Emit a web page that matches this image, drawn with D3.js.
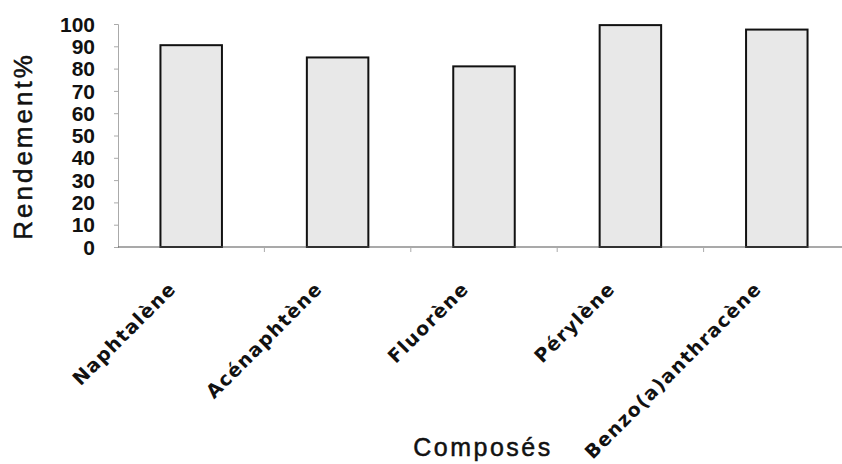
<!DOCTYPE html>
<html>
<head>
<meta charset="utf-8">
<script src="https://cdn.jsdelivr.net/npm/d3@7"></script>
<style>
  body { margin: 0; background: #ffffff; }
  svg { display: block; }
</style>
</head>
<body>
<div id="chart"></div>
<script>
// chart data
var composes = ["Naphtalène", "Acénaphtène", "Fluorène", "Pérylène", "Benzo(a)anthracène"];
var rendement = [90.5, 85, 81, 99.5, 97.5];
var yTicks = [0, 10, 20, 30, 40, 50, 60, 70, 80, 90, 100];

var svgWidth = 842;
var svgHeight = 464;

// plot box
var plotLeft = 118, plotTop = 24, plotBottom = 247, plotRight = 850;

var svg = d3.select("#chart")
  .append("svg")
  .attr("width", svgWidth)
  .attr("height", svgHeight);

var xScale = d3.scaleBand()
  .domain(composes)
  .range([plotLeft, plotRight])
  .paddingInner(0.58)
  .paddingOuter(0.29);

var yScale = d3.scaleLinear()
  .domain([0, 100])
  .range([plotBottom, plotTop]);

// bars
svg.selectAll("rect.bar")
  .data(composes)
  .enter()
  .append("rect")
  .attr("class", "bar")
  .attr("x", d => xScale(d))
  .attr("y", (d, i) => yScale(rendement[i]))
  .attr("width", xScale.bandwidth())
  .attr("height", (d, i) => yScale(0) - yScale(rendement[i]))
  .attr("fill", "#e8e8e8")
  .attr("stroke", "#111")
  .attr("stroke-width", 2);

// y axis
var leftAxis = d3.axisLeft(yScale).tickValues(yTicks).tickSize(4).tickPadding(19);
var yAxis = svg.append("g")
  .attr("transform", `translate(${plotLeft}, 0)`)
  .call(leftAxis);
yAxis.select(".domain").attr("stroke", "#aaa");
yAxis.selectAll(".tick line").attr("stroke", "#aaa");
yAxis.selectAll("text")
  .attr("fill", "#111")
  .attr("dy", "0.34em")
  .style("font-family", "'Liberation Sans', Arial, sans-serif")
  .style("font-size", "21px")
  .style("font-weight", "bold");

// x axis line with ticks between categories
var step = xScale.step();
var xAxisG = svg.append("g");
xAxisG.append("line")
  .attr("x1", plotLeft).attr("x2", plotRight)
  .attr("y1", plotBottom).attr("y2", plotBottom)
  .attr("stroke", "#555").attr("stroke-width", 1.2);
xAxisG.selectAll("line.sep")
  .data(composes.slice(1))
  .enter()
  .append("line")
  .attr("class", "sep")
  .attr("x1", d => xScale(d) - (step - xScale.bandwidth()) / 2)
  .attr("x2", d => xScale(d) - (step - xScale.bandwidth()) / 2)
  .attr("y1", plotBottom).attr("y2", plotBottom + 5)
  .attr("stroke", "#aaa");

// category labels, rotated
svg.selectAll("text.cat")
  .data(composes)
  .enter()
  .append("text")
  .attr("class", "cat")
  .attr("transform", d => `translate(${xScale(d) + xScale.bandwidth() / 2 - 14}, 290) rotate(-45)`)
  .attr("text-anchor", "end")
  .style("font-family", "'DejaVu Sans', sans-serif")
  .style("font-size", "19px")
  .style("font-weight", "bold")
  .style("letter-spacing", "1.3px")
  .attr("fill", "#111")
  .text(d => d);

// axis titles
svg.append("text")
  .attr("transform", "translate(32, 146) rotate(-90)")
  .attr("text-anchor", "middle")
  .style("font-family", "'Liberation Sans', Arial, sans-serif")
  .style("font-size", "26px")
  .style("letter-spacing", "3px")
  .attr("fill", "#111")
  .attr("stroke", "#111")
  .attr("stroke-width", 0.5)
  .text("Rendement%");

svg.append("text")
  .attr("x", 483)
  .attr("y", 456)
  .attr("text-anchor", "middle")
  .style("font-family", "'Liberation Sans', Arial, sans-serif")
  .style("font-size", "25px")
  .style("letter-spacing", "2.5px")
  .attr("fill", "#111")
  .attr("stroke", "#111")
  .attr("stroke-width", 0.5)
  .text("Composés");
</script>
</body>
</html>
